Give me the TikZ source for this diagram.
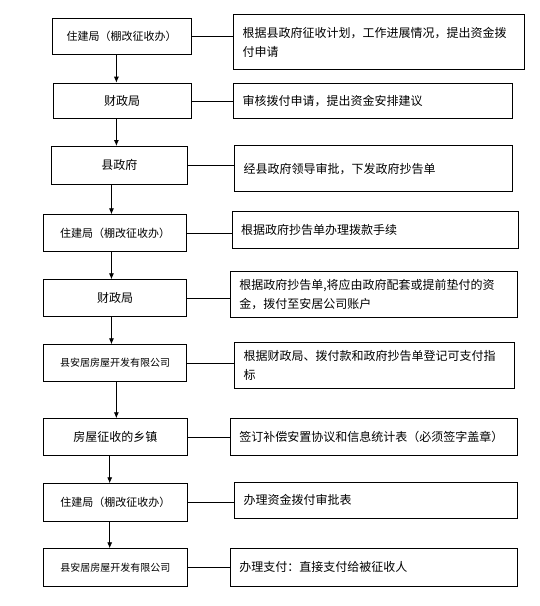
\documentclass[tikz,border=0pt]{standalone}
\usepackage{fontspec}
\setmainfont{Noto Sans CJK SC}
\usetikzlibrary{arrows.meta}

\begin{document}
\begin{tikzpicture}[x=1pt,y=-1pt,line width=0.8pt,
		lbox/.style 2 args={draw,anchor=north west,minimum width=#1,minimum height=#2,inner sep=0pt,font=\fontsize{11}{13}\selectfont},
		rbox/.style 2 args={draw,anchor=north west,text width=#1,minimum height=#2,inner xsep=9pt,inner ysep=0pt,align=left,font=\fontsize{12}{19}\selectfont},
		arr/.style={-{Latex[length=6pt,width=5pt]}}]
		\useasboundingbox (0,0) rectangle (539,606);
		
		\node[lbox={139pt}{36pt}] (l1) at (51.7,18.3) {住建局（棚改征收办）};
		\node[lbox={138pt}{35.6pt},font=\fontsize{12}{14}\selectfont] (l2) at (52.7,82.7) {财政局};
		\node[lbox={135.7pt}{38pt},font=\fontsize{12}{14}\selectfont] (l3) at (51,146) {县政府};
		\node[lbox={142.7pt}{36.4pt}] (l4) at (43.3,214.3) {住建局（棚改征收办）};
		\node[lbox={142.7pt}{36.4pt},font=\fontsize{12}{14}\selectfont] (l5) at (43.3,279.3) {财政局};
		\node[lbox={142.7pt}{36.7pt},font=\fontsize{10}{12}\selectfont] (l6) at (43.3,344.3) {县安居房屋开发有限公司};
		\node[lbox={143.4pt}{36.7pt},font=\fontsize{12}{14}\selectfont] (l7) at (43.3,418.3) {房屋征收的乡镇};
		\node[lbox={143.4pt}{37.4pt}] (l8) at (43.3,483.3) {住建局（棚改征收办）};
		\node[lbox={143.4pt}{37.4pt},font=\fontsize{10}{12}\selectfont] (l9) at (43.3,548.3) {县安居房屋开发有限公司};
		
		\node[rbox={272.7pt}{55pt}] (r1) at (233.3,14.3) {根据县政府征收计划，工作进展情况，提出资金拨\\付申请};
		\node[rbox={260.4pt}{35.6pt}] (r2) at (233.3,82.7) {审核拨付申请，提出资金安排建议};
		\node[rbox={260pt}{46.3pt}] (r3) at (234.3,145) {经县政府领导审批，下发政府抄告单};
		\node[rbox={268.6pt}{36.7pt}] (r4) at (231.7,211) {根据政府抄告单办理拨款手续};
		\node[rbox={268.7pt}{46pt}] (r5) at (230,270.7) {根据政府抄告单,将应由政府配套或提前垫付的资\\金，拨付至安居公司账户};
		\node[rbox={261.7pt}{46pt}] (r6) at (234.3,342.3) {根据财政局、拨付款和政府抄告单登记可支付指\\标};
		\node[rbox={268.7pt}{36.7pt}] (r7) at (230,418.3) {签订补偿安置协议和信息统计表（必须签字盖章）};
		\node[rbox={264.4pt}{36.6pt}] (r8) at (234.3,481.7) {办理资金拨付审批表};
		\node[rbox={268.7pt}{37.4pt}] (r9) at (230,548.3) {办理支付：直接支付给被征收人};
		
		\draw[arr] ([xshift=-5.2pt]l1.south) -- ([xshift=-5.2pt]l1.south |- l2.north);
		\draw[arr] ([xshift=-5.7pt]l2.south) -- ([xshift=-5.7pt]l2.south |- l3.north);
		\draw[arr] ([xshift=-7.8pt]l3.south) -- ([xshift=-7.8pt]l3.south |- l4.north);
		\draw[arr] ([xshift=-3.6pt]l4.south) -- ([xshift=-3.6pt]l4.south |- l5.north);
		\draw[arr] ([xshift=-3.6pt]l5.south) -- ([xshift=-3.6pt]l5.south |- l6.north);
		\draw[arr] ([xshift=1.3pt]l6.south) -- ([xshift=1.3pt]l6.south |- l7.north);
		\draw[arr] ([xshift=-5.7pt]l7.south) -- ([xshift=-5.7pt]l7.south |- l8.north);
		\draw[arr] ([xshift=-5.7pt]l8.south) -- ([xshift=-5.7pt]l8.south |- l9.north);
		
		\foreach \i in {1,...,9}
			\draw (l\i.east) -- (l\i.east -| r\i.west);
	\end{tikzpicture}
\end{document}
